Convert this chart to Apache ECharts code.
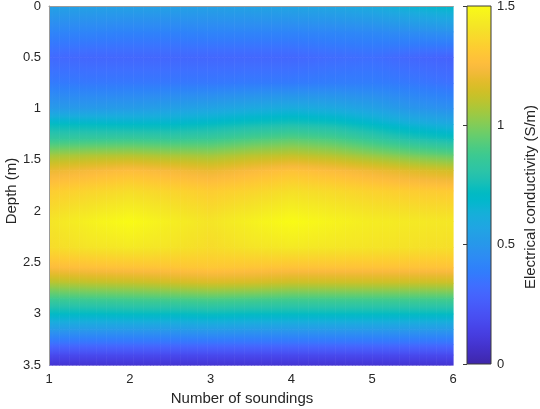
<!DOCTYPE html>
<html>
<head>
<meta charset="utf-8">
<script src="https://cdn.jsdelivr.net/npm/echarts@6/dist/echarts.min.js"></script>
<style>html,body{margin:0;padding:0;background:#fff}#main{width:540px;height:409px}</style>
</head>
<body>
<div id="main"></div>
<script>
// sounding positions (columns) and depths (rows) of the read grid
var soundings = [1, 1.5, 2, 2.5, 3, 3.5, 4, 4.5, 5, 5.5, 6];
var depths = [0, 0.25, 0.5, 0.75, 1.0, 1.15, 1.3, 1.45, 1.6, 1.8, 2.1, 2.35, 2.55, 2.7, 2.85, 3.0, 3.15, 3.3, 3.4, 3.5];
// electrical conductivity (S/m), one row per depth
var sigma = [
    [0.55,0.55,0.55,0.55,0.55,0.56,0.57,0.58,0.61,0.66,0.70],
    [0.42,0.42,0.41,0.41,0.42,0.42,0.42,0.43,0.44,0.46,0.48],
    [0.31,0.30,0.30,0.30,0.30,0.30,0.30,0.32,0.33,0.30,0.28],
    [0.38,0.37,0.37,0.37,0.37,0.38,0.38,0.39,0.39,0.37,0.34],
    [0.52,0.52,0.53,0.55,0.57,0.60,0.62,0.60,0.56,0.50,0.47],
    [0.72,0.71,0.70,0.70,0.72,0.75,0.77,0.75,0.70,0.64,0.60],
    [0.85,0.86,0.87,0.86,0.87,0.91,0.94,0.91,0.85,0.79,0.75],
    [1.05,1.07,1.08,1.06,1.05,1.09,1.11,1.08,1.03,0.98,0.94],
    [1.20,1.23,1.26,1.23,1.20,1.24,1.28,1.25,1.21,1.17,1.14],
    [1.32,1.35,1.38,1.35,1.32,1.35,1.39,1.37,1.34,1.32,1.31],
    [1.41,1.46,1.50,1.45,1.41,1.46,1.50,1.47,1.44,1.43,1.42],
    [1.38,1.41,1.43,1.41,1.38,1.41,1.43,1.42,1.41,1.40,1.39],
    [1.25,1.27,1.28,1.29,1.30,1.29,1.28,1.28,1.28,1.28,1.28],
    [1.08,1.10,1.11,1.13,1.15,1.14,1.12,1.12,1.12,1.12,1.12],
    [0.88,0.89,0.90,0.91,0.92,0.91,0.90,0.90,0.90,0.90,0.90],
    [0.71,0.71,0.72,0.72,0.73,0.72,0.72,0.72,0.72,0.72,0.72],
    [0.52,0.52,0.52,0.52,0.53,0.52,0.52,0.52,0.52,0.52,0.52],
    [0.32,0.32,0.32,0.32,0.32,0.32,0.32,0.32,0.32,0.32,0.32],
    [0.18,0.18,0.18,0.18,0.18,0.18,0.18,0.18,0.18,0.18,0.18],
    [0.08,0.08,0.08,0.08,0.08,0.08,0.08,0.08,0.08,0.08,0.08]
];
var cbRange = [0, 1.5];

// parula colormap (64)
var parula = [
[0.2422,0.1504,0.6603],[0.2504,0.1650,0.7076],[0.2578,0.1818,0.7511],[0.2647,0.1978,0.7952],
[0.2706,0.2147,0.8364],[0.2751,0.2342,0.8710],[0.2783,0.2559,0.8991],[0.2803,0.2782,0.9221],
[0.2813,0.3006,0.9414],[0.2810,0.3228,0.9579],[0.2795,0.3447,0.9717],[0.2760,0.3667,0.9829],
[0.2699,0.3892,0.9906],[0.2602,0.4123,0.9952],[0.2440,0.4358,0.9988],[0.2206,0.4603,0.9973],
[0.1963,0.4847,0.9892],[0.1834,0.5074,0.9798],[0.1786,0.5289,0.9682],[0.1764,0.5499,0.9520],
[0.1687,0.5703,0.9359],[0.1540,0.5902,0.9218],[0.1460,0.6091,0.9079],[0.1380,0.6276,0.8973],
[0.1248,0.6459,0.8883],[0.1113,0.6635,0.8763],[0.0952,0.6798,0.8598],[0.0689,0.6948,0.8394],
[0.0297,0.7082,0.8163],[0.0036,0.7203,0.7917],[0.0067,0.7312,0.7660],[0.0433,0.7411,0.7394],
[0.0964,0.7500,0.7120],[0.1408,0.7584,0.6842],[0.1717,0.7670,0.6554],[0.1938,0.7758,0.6251],
[0.2161,0.7843,0.5923],[0.2470,0.7918,0.5567],[0.2906,0.7973,0.5188],[0.3406,0.8008,0.4789],
[0.3909,0.8029,0.4354],[0.4456,0.8024,0.3909],[0.5044,0.7993,0.3480],[0.5616,0.7942,0.3045],
[0.6174,0.7876,0.2612],[0.6720,0.7793,0.2227],[0.7242,0.7698,0.1910],[0.7738,0.7598,0.1646],
[0.8203,0.7498,0.1535],[0.8634,0.7406,0.1596],[0.9035,0.7330,0.1774],[0.9393,0.7288,0.2100],
[0.9728,0.7298,0.2394],[0.9956,0.7434,0.2371],[0.9970,0.7659,0.2199],[0.9952,0.7893,0.2028],
[0.9892,0.8136,0.1885],[0.9786,0.8386,0.1766],[0.9676,0.8639,0.1643],[0.9610,0.8890,0.1537],
[0.9597,0.9135,0.1423],[0.9628,0.9373,0.1265],[0.9691,0.9606,0.1064],[0.9769,0.9839,0.0805]
];

function cmap(v) {
    var t = Math.max(0, Math.min(1, (v - cbRange[0]) / (cbRange[1] - cbRange[0]))) * (parula.length - 1);
    var k = Math.min(Math.floor(t), parula.length - 2), f = t - k;
    var a = parula[k], b = parula[k + 1];
    var c = [0, 1, 2].map(function (n) { return Math.round((a[n] + (b[n] - a[n]) * f) * 255); });
    return 'rgb(' + c.join(',') + ')';
}

var cells = [];
for (var j = 0; j < depths.length - 1; j++) {
    for (var i = 0; i < soundings.length - 1; i++) {
        cells.push([soundings[i], depths[j], i, j]);
    }
}

// draws one grid cell, shaded like matlab "interp"
function renderCell(params, api) {
    var i = api.value(2), j = api.value(3);
    var p0 = api.coord([soundings[i], depths[j]]);
    var p1 = api.coord([soundings[i + 1], depths[j + 1]]);
    var n = 12, children = [];
    for (var k = 0; k < n; k++) {
        var fm = (k + 0.5) / n;
        var vt = sigma[j][i] + (sigma[j][i + 1] - sigma[j][i]) * fm;
        var vb = sigma[j + 1][i] + (sigma[j + 1][i + 1] - sigma[j + 1][i]) * fm;
        var xa = p0[0] + (p1[0] - p0[0]) * k / n;
        var xb = p0[0] + (p1[0] - p0[0]) * (k + 1) / n;
        var stops = [];
        for (var s = 0; s <= 4; s++) {
            stops.push({offset: s / 4, color: cmap(vt + (vb - vt) * s / 4)});
        }
        children.push({
            type: 'rect',
            shape: {x: xa, y: p0[1], width: xb - xa + 0.6, height: p1[1] - p0[1] + 0.6},
            style: {fill: new echarts.graphic.LinearGradient(0, 0, 0, 1, stops)}
        });
    }
    return {type: 'group', children: children};
}

function renderBar(params, api) {
    var a = api.coord([0, cbRange[0]]);
    var b = api.coord([1, cbRange[1]]);
    var stops = parula.map(function (c, k) {
        return {offset: 1 - k / (parula.length - 1), color: 'rgb(' + c.map(function (x) { return Math.round(x * 255); }).join(',') + ')'};
    }).reverse();
    return {
        type: 'rect',
        shape: {x: a[0], y: b[1], width: b[0] - a[0], height: a[1] - b[1]},
        style: {fill: new echarts.graphic.LinearGradient(0, 0, 0, 1, stops), stroke: '#3a3a3a', lineWidth: 1}
    };
}

var txt = '#262626';
var font = 'Liberation Sans';
var myChart = echarts.init(document.getElementById('main'));
var option = {
    animation: false,
    textStyle: {fontFamily: font},
    grid: [
        {left: 49, right: 87, top: 6, bottom: 44, outerBoundsMode: 'none'},
        {left: 467, width: 24, top: 6, bottom: 45, outerBoundsMode: 'none'}
    ],
    xAxis: [
        {
            type: 'value', gridIndex: 0, min: 1, max: 6, interval: 1,
            name: 'Number of soundings', nameLocation: 'middle', nameGap: 26, nameMoveOverlap: false,
            nameTextStyle: {color: txt, fontSize: 15, fontFamily: font, padding: [0, 18, 0, 0]},
            axisLine: {show: true, lineStyle: {color: '#9a9a9a', width: 1}},
            axisTick: {show: false},
            splitLine: {show: false},
            axisLabel: {color: txt, fontSize: 13, fontFamily: font, margin: 8},
            z: 10
        },
        {type: 'value', gridIndex: 1, min: 0, max: 1, show: false}
    ],
    yAxis: [
        {
            type: 'value', gridIndex: 0, min: 0, max: 3.5, interval: 0.5, inverse: true,
            name: 'Depth (m)', nameLocation: 'middle', nameGap: 30, nameRotate: 90, nameMoveOverlap: false,
            nameTextStyle: {color: txt, fontSize: 15, fontFamily: font, padding: [0, 11, 0, 0]},
            axisLine: {show: true, lineStyle: {color: '#9a9a9a', width: 1}},
            axisTick: {show: false},
            splitLine: {show: false},
            axisLabel: {color: txt, fontSize: 13, fontFamily: font, margin: 8},
            z: 10
        },
        {
            type: 'value', gridIndex: 1, position: 'right', min: 0, max: 1.5, interval: 0.5,
            name: 'Electrical conductivity (S/m)', nameLocation: 'middle', nameGap: 32, nameRotate: 90,
            nameMoveOverlap: false,
            nameTextStyle: {color: txt, fontSize: 15, fontFamily: font, padding: [0, 24, 0, 0]},
            axisLine: {show: false},
            axisTick: {show: true, inside: true, length: 4, lineStyle: {color: '#3a3a3a'}},
            splitLine: {show: false},
            axisLabel: {color: txt, fontSize: 13, fontFamily: font, margin: 6},
            z: 10
        }
    ],
    series: [
        {
            type: 'custom', xAxisIndex: 0, yAxisIndex: 0, silent: true,
            renderItem: renderCell, data: cells
        },
        {
            type: 'custom', xAxisIndex: 1, yAxisIndex: 1, silent: true,
            renderItem: renderBar, data: [[0, cbRange[1]]]
        }
    ]
};
myChart.setOption(option);
window.onresize = function () {
    myChart.resize();
};
</script>
</body>
</html>
